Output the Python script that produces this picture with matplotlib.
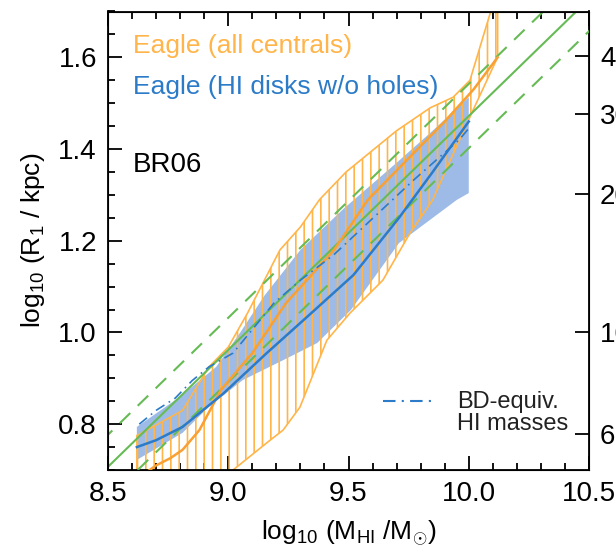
import numpy as np
import matplotlib
matplotlib.use("Agg")
import matplotlib.pyplot as plt

plt.rcParams['font.family'] = ['Liberation Sans', 'DejaVu Sans']
plt.rcParams['mathtext.fontset'] = 'custom'
plt.rcParams['mathtext.rm'] = 'Liberation Sans'
plt.rcParams['mathtext.it'] = 'Liberation Sans:italic'
plt.rcParams['hatch.linewidth'] = 1.2

# BR06 relation: log R1 = slope * log MHI + icpt, scatter band
br_slope = 0.51
br_icpt = -3.628
br_scatter = 0.07
br_x = [8.4, 10.6]

# Eagle (all centrals): median and upper/lower envelopes
ea_up_x = [8.62, 8.81, 8.92, 9.00, 9.08, 9.215, 9.30, 9.38, 9.49, 9.56, 9.70, 9.84, 9.935, 10.005, 10.12]
ea_up_y = [0.775, 0.83, 0.925, 0.968, 1.042, 1.18, 1.23, 1.29, 1.35, 1.38, 1.44, 1.49, 1.513, 1.55, 1.75]
ea_lo_x = [8.62, 8.80, 9.02, 9.174, 9.228, 9.298, 9.41, 9.506, 9.643, 9.756, 9.85, 9.91, 10.018, 10.12]
ea_lo_y = [0.52, 0.60, 0.70, 0.765, 0.787, 0.837, 0.983, 1.042, 1.114, 1.217, 1.289, 1.36, 1.485, 1.60]
ea_med_x = [8.62, 8.70, 8.76, 8.81, 8.88, 8.97, 9.10, 9.24, 9.44, 9.58, 9.75, 9.90, 10.02, 10.12]
ea_med_y = [0.68, 0.71, 0.726, 0.744, 0.787, 0.875, 0.955, 1.064, 1.18, 1.289, 1.38, 1.46, 1.53, 1.60]

# Eagle (HI disks w/o holes)
hi_up_x = [8.62, 8.80, 8.95, 9.05, 9.15, 9.30, 9.48, 9.70, 9.85, 10.00]
hi_up_y = [0.794, 0.86, 0.925, 1.00, 1.08, 1.18, 1.27, 1.37, 1.44, 1.513]
hi_lo_x = [8.62, 8.81, 8.92, 9.06, 9.23, 9.37, 9.51, 9.71, 9.95, 10.00]
hi_lo_y = [0.722, 0.781, 0.838, 0.896, 0.94, 0.977, 1.049, 1.195, 1.289, 1.304]
hi_med_x = [8.62, 8.70, 8.81, 8.98, 9.16, 9.33, 9.52, 9.71, 9.85, 10.00]
hi_med_y = [0.750, 0.765, 0.794, 0.867, 0.955, 1.035, 1.125, 1.25, 1.35, 1.46]

# BD-equivalent HI masses
bd_x = [8.63, 8.70, 8.78, 8.85, 8.92, 9.02, 9.19, 9.30, 9.44, 9.77, 9.96, 10.0]
bd_y = [0.80, 0.83, 0.857, 0.895, 0.925, 0.955, 1.064, 1.114, 1.17, 1.332, 1.42, 1.445]

kpc_ticks = [6, 10, 20, 30, 40]

orange = '#ffb54a'
orange_dk = '#f8a033'
blue_fill = '#9dbbe6'
blue = '#2b7bc9'
green = '#66bb55'

fig = plt.figure(figsize=(6.16, 5.53), dpi=100)
ax = fig.add_axes([108/616, 1 - 470/553, 481/616, 458.5/553])

ax.fill(np.r_[hi_up_x, hi_lo_x[::-1]], np.r_[hi_up_y, hi_lo_y[::-1]],
        color=blue_fill, lw=0, zorder=1)
ax.fill(np.r_[ea_up_x, ea_lo_x[::-1]], np.r_[ea_up_y, ea_lo_y[::-1]],
        facecolor='none', edgecolor=orange, hatch='||', lw=1.2, zorder=2)

bx = np.array(br_x)
by = br_slope * bx + br_icpt
ax.plot(bx, by, color=green, lw=1.5, zorder=3)
ax.plot(bx, by + br_scatter, color=green, lw=1.5, ls=(0, (7, 5)), zorder=3)
ax.plot(bx, by - br_scatter, color=green, lw=1.5, ls=(0, (7, 5)), zorder=3)

ax.plot(ea_med_x, ea_med_y, color=orange_dk, lw=1.8, zorder=4)
ax.plot(hi_med_x, hi_med_y, color=blue, lw=1.8, zorder=5)
ax.plot(bd_x, bd_y, color=blue, lw=1.2, ls=(0, (6, 3, 1, 3)), zorder=5)

ax.set_xlim(8.5, 10.5)
ax.set_ylim(0.7, 1.7)
ax.set_xticks([8.5, 9.0, 9.5, 10.0, 10.5])
ax.set_xticks(np.arange(8.5, 10.51, 0.1), minor=True)
ax.set_yticks([0.8, 1.0, 1.2, 1.4, 1.6])
ax.set_yticks(np.arange(0.7, 1.701, 0.05), minor=True)
ax.xaxis.set_major_formatter(plt.FormatStrFormatter('%.1f'))
ax.yaxis.set_major_formatter(plt.FormatStrFormatter('%.1f'))
ax.tick_params(which='both', direction='in', top=True, right=False, width=1.3,
               labelsize=20, pad=8)
ax.tick_params(which='major', length=10)
ax.tick_params(which='minor', length=5)
for s in ax.spines.values():
    s.set_linewidth(1.3)

ax2 = ax.twinx()
ax2.set_ylim(0.7, 1.7)
ax2.set_yticks(np.log10(kpc_ticks))
ax2.set_yticklabels([str(k) for k in kpc_ticks])
ax2.tick_params(direction='in', length=10, width=1.3, labelsize=20, pad=8)

ax.set_xlabel(r'log$_{10}$ (M$_{\rm HI}$ /M$_{\odot}$)', fontsize=19, labelpad=8)
ax.set_ylabel(r'log$_{10}$ (R$_1$ / kpc)', fontsize=19, labelpad=8)

ax.text(0.052, 0.925, 'Eagle (all centrals)', color=orange, fontsize=19,
        transform=ax.transAxes, va='center')
ax.text(0.052, 0.835, 'Eagle (HI disks w/o holes)', color=blue, fontsize=19,
        transform=ax.transAxes, va='center')
ax.text(0.052, 0.665, 'BR06', color='black', fontsize=20,
        transform=ax.transAxes, va='center')

ax.text(0.726, 0.125, 'BD-equiv.\nHI masses', color='#222222', fontsize=17,
        transform=ax.transAxes, va='center', linespacing=1.0)
ax.plot([0.572, 0.675], [0.15, 0.15], color=blue, lw=1.5,
        ls=(0, (6, 3, 1, 3)), transform=ax.transAxes)

fig.savefig('out.png', dpi=100)
